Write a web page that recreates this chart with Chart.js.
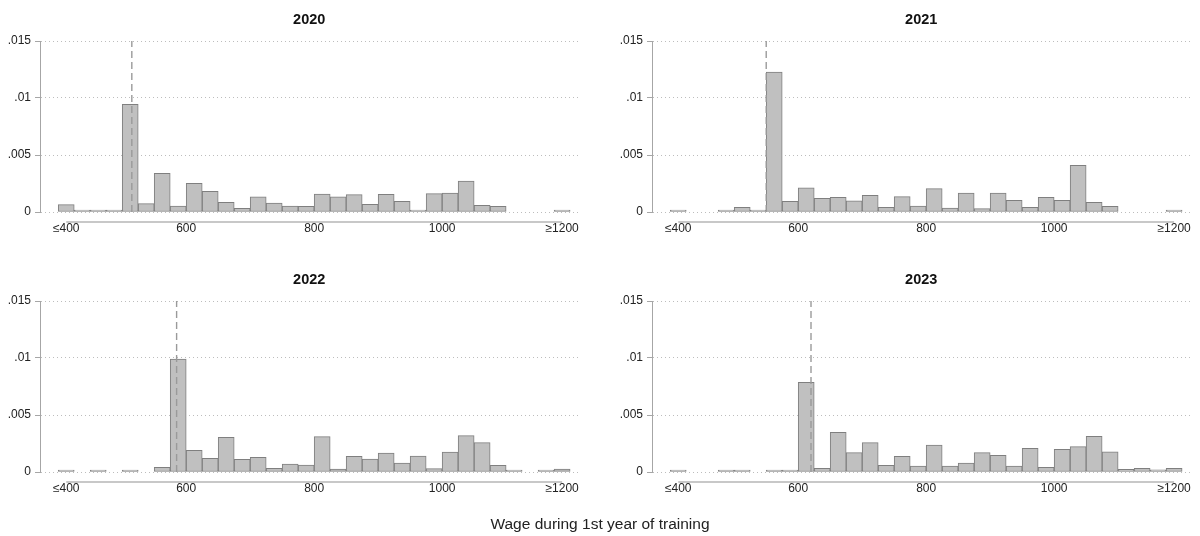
<!DOCTYPE html>
<html><head><meta charset="utf-8">
<script src="https://cdn.jsdelivr.net/npm/chart.js@4.4.1/dist/chart.umd.min.js"></script>
<style>
html,body{margin:0;padding:0;background:#fff;}
#wrap{position:relative;width:1200px;height:536px;overflow:hidden;background:#fff;}
canvas{position:absolute;}
#xtitle{position:absolute;left:0;width:1200px;top:516px;text-align:center;font-size:15.5px;line-height:1;font-family:'Liberation Sans',Arial,Helvetica,sans-serif;color:#222;}
</style></head><body>
<div id="wrap">
<canvas id="c0" width="588" height="260" style="left:0px;top:0px"></canvas>
<canvas id="c1" width="588" height="260" style="left:612px;top:0px"></canvas>
<canvas id="c2" width="588" height="260" style="left:0px;top:260px"></canvas>
<canvas id="c3" width="588" height="260" style="left:612px;top:260px"></canvas>
<div id="xtitle">Wage during 1st year of training</div>
</div>
<script>
// ---- data ----
const years = ['2020', '2021', '2022', '2023'];
const binWidth = 25;
const binStarts = [400, 425, 450, 475, 500, 525, 550, 575, 600, 625, 650, 675, 700, 725, 750, 775,
                   800, 825, 850, 875, 900, 925, 950, 975, 1000, 1025, 1050, 1075, 1100, 1125, 1150, 1175];
const density2020 = [0.00064, 0.0001, 0.00008, 0.00003, 0.00944, 0.00073, 0.00339, 0.00053, 0.00251, 0.00181, 0.00085, 0.00032, 0.00132, 0.00079, 0.00053, 0.0005,
                     0.00158, 0.00132, 0.00152, 0.00067, 0.00155, 0.00094, 0.00015, 0.00161, 0.00167, 0.00272, 0.00058, 0.0005, null, null, null, 0.00015];
const density2021 = [0.00003, null, null, 0.00003, 0.00041, 0.0001, 0.01228, 0.00094, 0.00213, 0.0012, 0.00129, 0.00099, 0.00146, 0.00041, 0.00135, 0.00053,
                     0.00205, 0.00035, 0.00167, 0.00029, 0.00167, 0.00102, 0.00041, 0.00129, 0.00102, 0.00409, 0.00085, 0.0005, null, null, null, 0.00006];
const density2022 = [0.00005, null, 0.00005, null, 0.0001, null, 0.00041, 0.00991, 0.0019, 0.0012, 0.00304, 0.00111, 0.00129, 0.00032, 0.0007, 0.0006,
                     0.0031, 0.00026, 0.00137, 0.00114, 0.00167, 0.00079, 0.0014, 0.00029, 0.00175, 0.00319, 0.00257, 0.00058, 0.0001, null, 0.00005, 0.00026];
const density2023 = [0.00005, null, null, 0.00005, 0.00005, null, 0.0001, 0.0001, 0.00787, 0.00032, 0.00348, 0.0017, 0.00257, 0.00058, 0.00137, 0.00053,
                     0.00237, 0.00053, 0.00079, 0.0017, 0.00146, 0.00053, 0.00208, 0.00041, 0.00199, 0.00222, 0.00313, 0.00178, 0.00023, 0.00032, 0.00018, 0.00032];
const minWage = [515, 550, 585, 620];
const xTickValues = [412.5, 600, 800, 1000, 1187.5];
const xTickLabels = ['≤400', '600', '800', '1000', '≥1200'];
const yTickValues = [0, 0.005, 0.01, 0.015];
const yTickLabels = ['0', '.005', '.01', '.015'];
const xTitle = 'Wage during 1st year of training';

const seriesByYear = [density2020, density2021, density2022, density2023];

Chart.defaults.font.family = "'Liberation Sans', Arial, Helvetica, sans-serif";
Chart.defaults.font.size = 12;
Chart.defaults.color = '#222';

const panelDecor = {
  id: 'panelDecor',
  afterDraw(chart, args, opts) {
    const {ctx, chartArea, scales} = chart;
    const xs = scales.x;
    ctx.save();
    ctx.strokeStyle = '#c8c8c8';
    ctx.lineWidth = 2;
    const yLine = chartArea.bottom + 10;
    ctx.beginPath();
    ctx.moveTo(xs.getPixelForValue(xTickValues[0]), yLine);
    ctx.lineTo(xs.getPixelForValue(xTickValues[xTickValues.length - 1]), yLine);
    ctx.stroke();
    ctx.fillStyle = '#111';
    ctx.font = "bold 14.5px 'Liberation Sans', Arial, Helvetica, sans-serif";
    ctx.textAlign = 'center';
    ctx.textBaseline = 'alphabetic';
    ctx.fillText(opts.title, (chartArea.left + chartArea.right) / 2, chartArea.top - 17);
    ctx.restore();
  }
};

years.forEach((yr, i) => {
  const vals = seriesByYear[i];
  const barData = binStarts.map((s, k) => ({x: s + binWidth / 2, y: vals[k]})).filter(p => p.y !== null);
  new Chart(document.getElementById('c' + i), {
    type: 'bar',
    data: {
      datasets: [
        {
          type: 'line',
          label: 'Minimum wage',
          data: [{x: minWage[i], y: yTickValues[0]}, {x: minWage[i], y: yTickValues[yTickValues.length - 1]}],
          borderColor: '#9a9a9a',
          borderWidth: 1.4,
          borderDash: [7, 4],
          pointRadius: 0,
          fill: false,
          order: 0
        },
        {
          type: 'bar',
          label: 'Density ' + yr,
          data: barData,
          backgroundColor: '#c0c0c0',
          borderColor: '#7f7f7f',
          borderWidth: 1,
          borderSkipped: false,
          barPercentage: 1,
          categoryPercentage: 1,
          minBarLength: 2,
          order: 1
        }
      ]
    },
    plugins: [panelDecor],
    options: {
      responsive: false,
      animation: false,
      layout: {padding: {top: 41, right: 8, left: 0, bottom: 0}},
      plugins: {
        legend: {display: false},
        tooltip: {enabled: false},
        panelDecor: {title: yr}
      },
      scales: {
        x: {
          type: 'linear',
          min: 371.5,
          max: 1213,
          offset: false,
          afterFit: s => { s.height = 48; },
          afterBuildTicks: s => { s.ticks = xTickValues.map(v => ({value: v})); },
          ticks: {
            callback: (v, idx) => xTickLabels[idx],
            maxRotation: 0, minRotation: 0, autoSkip: false,
            padding: 9, color: '#222', font: {size: 12}
          },
          grid: {display: false, drawTicks: false, offset: false},
          border: {display: false}
        },
        y: {
          type: 'linear',
          min: 0,
          max: 0.015,
          afterFit: s => { s.width = 40; },
          afterBuildTicks: s => { s.ticks = yTickValues.map(v => ({value: v})); },
          ticks: {
            callback: (v, idx) => yTickLabels[idx],
            padding: 4, color: '#222', font: {size: 12}
          },
          grid: {color: '#bdbdbd', lineWidth: 1, tickLength: 5, tickColor: '#a6a6a6', tickWidth: 1},
          border: {display: true, color: '#a6a6a6', width: 1, dash: [1, 3]}
        }
      }
    }
  });
});
</script>
</body></html>
